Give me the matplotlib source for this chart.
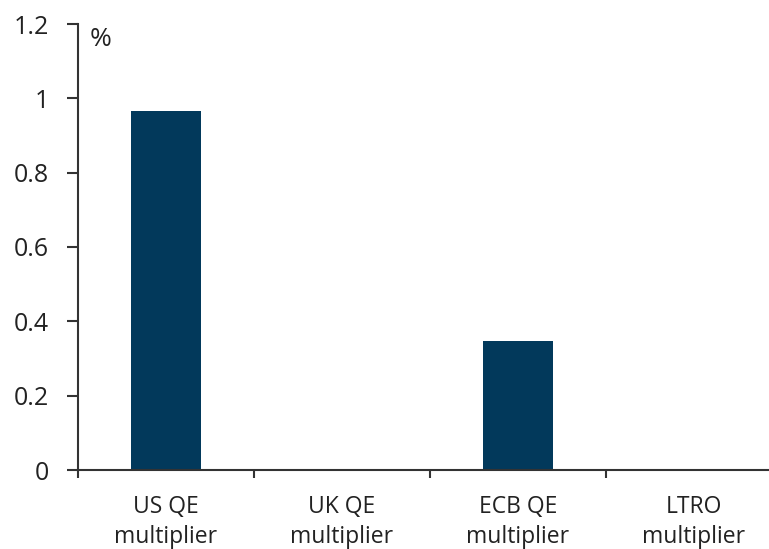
import matplotlib
matplotlib.use("Agg")
import matplotlib.pyplot as plt

categories = ["US QE\nmultiplier", "UK QE\nmultiplier", "ECB QE\nmultiplier", "LTRO\nmultiplier"]
values = [0.966, 0.0, 0.347, 0.0]
yticks = [0, 0.2, 0.4, 0.6, 0.8, 1.0, 1.2]
ytick_labels = ["0", "0.2", "0.4", "0.6", "0.8", "1", "1.2"]

plt.rcParams['font.family'] = ['Open Sans', 'DejaVu Sans']

W, H = 769, 549
fig = plt.figure(figsize=(W/100, H/100), dpi=100)
ax = fig.add_axes([78/W, (H-470)/H, (782-78)/W, (470-24)/H])

x = list(range(len(categories)))
ax.bar(x, values, width=0.4, color="#02395b")
ax.set_xlim(-0.5, 3.5)
ax.set_ylim(0, 1.2)
ax.set_yticks(yticks)
ax.set_yticklabels(ytick_labels)
ax.set_xticks([-0.5, 0.5, 1.5, 2.5], minor=False)
ax.set_xticklabels([])
ax.set_xticks(x, minor=True)
ax.set_xticklabels(categories, minor=True)
ax.tick_params(axis='x', which='minor', length=0, pad=18, labelsize=16.5, colors='#222222')
ax.tick_params(axis='x', which='major', length=6, width=1.5, color='#333333', direction='out')
ax.tick_params(axis='y', length=8, width=1.5, color='#333333', pad=13, labelsize=18, labelcolor='#222222')
for lbl in ax.get_xticklabels(minor=True):
    lbl.set_linespacing(1.35)

for s in ['top', 'right']:
    ax.spines[s].set_visible(False)
for s in ['left', 'bottom']:
    ax.spines[s].set_color('#333333')
    ax.spines[s].set_linewidth(1.5)

ax.text(101/W, (549-40)/H, "%", transform=fig.transFigure, fontsize=19, color='#222222', va='center', ha='center')

fig.savefig("out.png", dpi=100)
